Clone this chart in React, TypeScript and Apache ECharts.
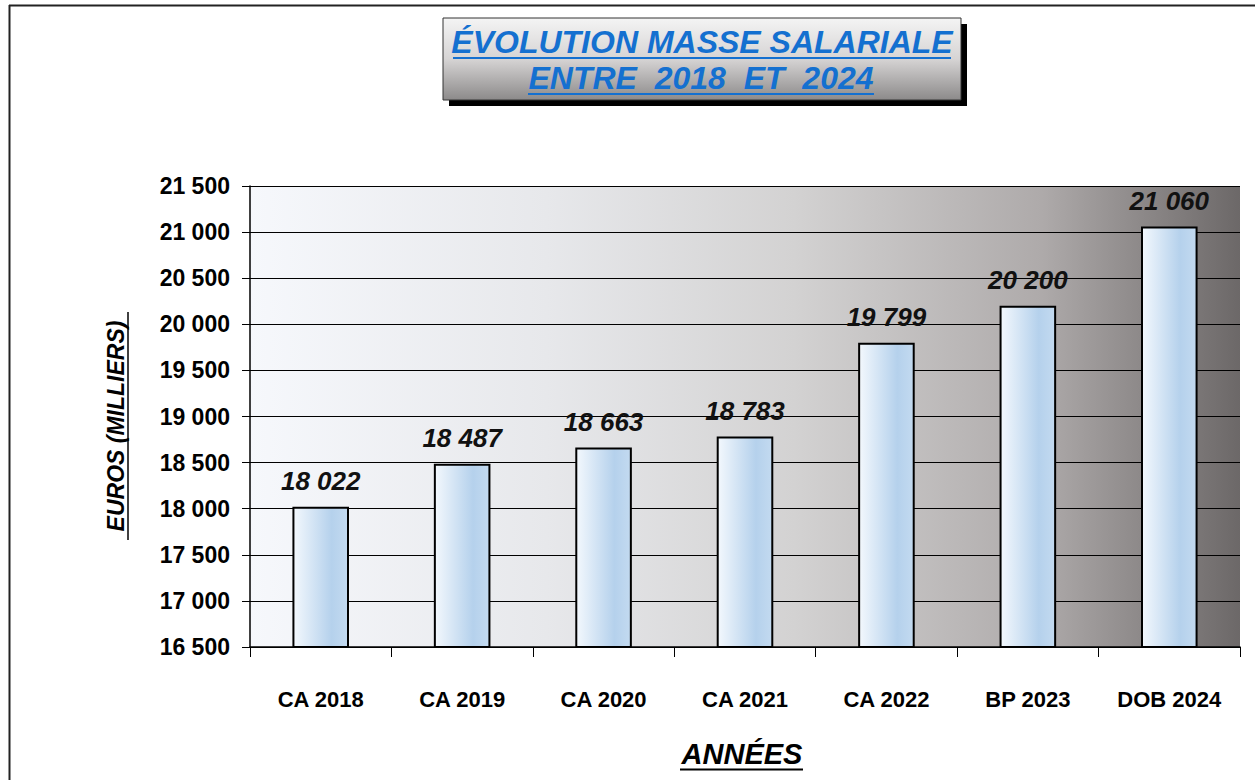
import React, { useEffect, useRef } from "react";
import * as echarts from "echarts";

const categories = ["CA 2018", "CA 2019", "CA 2020", "CA 2021", "CA 2022", "BP 2023", "DOB 2024"];
const values = [18022, 18487, 18663, 18783, 19799, 20200, 21060];
const yMin = 16500;
const yMax = 21500;
const yInterval = 500;
const titleLines = ["ÉVOLUTION MASSE SALARIALE", "ENTRE  2018  ET  2024"];
const yAxisTitle = "EUROS (MILLIERS)";
const xAxisTitle = "ANNÉES";

const fmt = (v: number) => {
  const s = Math.round(v).toString();
  return s.replace(/\B(?=(\d{3})+(?!\d))/g, " ");
};

const FONT = "Liberation Sans, Arial, sans-serif";

export default function App() {
  const ref = useRef<HTMLDivElement>(null);
  useEffect(() => {
    document.body.style.margin = "0";
    const chart = echarts.init(ref.current!, undefined, { renderer: "svg" });
    const blue = "#1470d0";
    chart.setOption({
      animation: false,
      backgroundColor: "#ffffff",
      grid: {
        left: 250,
        right: 15,
        top: 186,
        bottom: 133,
        show: true,
        borderWidth: 0,
        backgroundColor: new echarts.graphic.LinearGradient(0, 0, 1, 0, [
          { offset: 0, color: "#f6f8fc" },
          { offset: 0.3, color: "#e7e8eb" },
          { offset: 0.55, color: "#d3d2d2" },
          { offset: 0.8, color: "#aeaaaa" },
          { offset: 1, color: "#6c6868" },
        ]),
      },
      xAxis: {
        type: "category",
        data: categories,
        axisLine: { show: true, lineStyle: { color: "#000", width: 1.5 } },
        axisTick: { show: true, length: 10, lineStyle: { color: "#000" }, alignWithLabel: false },
        axisLabel: {
          color: "#000",
          fontFamily: FONT,
          fontWeight: "bold",
          fontSize: 22,
          margin: 41,
        },
      },
      yAxis: {
        type: "value",
        min: yMin,
        max: yMax,
        interval: yInterval,
        axisLine: { show: true, lineStyle: { color: "#000", width: 1.5 } },
        axisTick: { show: true, length: 8, lineStyle: { color: "#000" } },
        splitLine: { show: true, lineStyle: { color: "#000", width: 1 } },
        axisLabel: {
          color: "#000",
          fontFamily: FONT,
          fontWeight: "bold",
          fontSize: 23,
          margin: 20,
          formatter: (v: number) => fmt(v),
        },
      },
      series: [
        {
          type: "bar",
          data: values,
          barWidth: "40%",
          itemStyle: {
            color: new echarts.graphic.LinearGradient(0, 0, 1, 0, [
              { offset: 0, color: "#f3f8fd" },
              { offset: 0.7, color: "#b5d1ec" },
              { offset: 1, color: "#c3daf0" },
            ]),
            borderColor: "#000",
            borderWidth: 2,
          },
          label: {
            show: true,
            position: "top",
            distance: 13,
            color: "#111",
            fontFamily: FONT,
            fontWeight: "bold",
            fontStyle: "italic",
            fontSize: 26,
            formatter: (p: any) => fmt(p.value),
          },
        },
      ],
      graphic: [
        // outer frame
        { type: "line", shape: { x1: 9, y1: 5.5, x2: 1255, y2: 5.5 }, style: { stroke: "#222", lineWidth: 2 }, z: 10 },
        { type: "line", shape: { x1: 9.5, y1: 5, x2: 9.5, y2: 780 }, style: { stroke: "#222", lineWidth: 2 }, z: 10 },
        // title shadow
        { type: "rect", shape: { x: 449, y: 24, width: 518, height: 82 }, style: { fill: "#000" }, z: 10 },
        // title box
        {
          type: "rect",
          shape: { x: 443, y: 18, width: 518, height: 82 },
          style: {
            fill: new echarts.graphic.LinearGradient(0, 0, 0, 1, [
              { offset: 0, color: "#f4f4f4" },
              { offset: 0.5, color: "#d6d4d4" },
              { offset: 1, color: "#8c8a8a" },
            ]),
            stroke: "#333",
            lineWidth: 1,
          },
          z: 11,
        },
        {
          type: "text",
          x: 702,
          y: 42,
          style: {
            text: titleLines[0],
            fill: blue,
            font: `italic bold 32px ${FONT}`,
            textAlign: "center",
            textVerticalAlign: "middle",
          },
          z: 12,
        },
        { type: "line", shape: { x1: 453, y1: 58, x2: 951, y2: 58 }, style: { stroke: blue, lineWidth: 2 }, z: 12 },
        {
          type: "text",
          x: 701,
          y: 78,
          style: {
            text: titleLines[1],
            fill: blue,
            font: `italic bold 32px ${FONT}`,
            textAlign: "center",
            textVerticalAlign: "middle",
          },
          z: 12,
        },
        { type: "line", shape: { x1: 528, y1: 94, x2: 874, y2: 94 }, style: { stroke: blue, lineWidth: 2 }, z: 12 },
        // y-axis title
        {
          type: "group",
          x: 116,
          y: 426,
          rotation: Math.PI / 2,
          children: [
            {
              type: "text",
              x: 0,
              y: 0,
              style: {
                text: yAxisTitle,
                fill: "#000",
                font: `italic bold 23px ${FONT}`,
                textAlign: "center",
                textVerticalAlign: "middle",
              },
            },
            { type: "line", shape: { x1: -114, y1: 12, x2: 114, y2: 12 }, style: { stroke: "#000", lineWidth: 1.5 } },
          ],
          z: 12,
        },
        // x-axis title
        {
          type: "text",
          x: 742,
          y: 754,
          style: {
            text: xAxisTitle,
            fill: "#000",
            font: `italic bold 29px ${FONT}`,
            textAlign: "center",
            textVerticalAlign: "middle",
          },
          z: 12,
        },
        { type: "line", shape: { x1: 680, y1: 769.5, x2: 803, y2: 769.5 }, style: { stroke: "#000", lineWidth: 2 }, z: 12 },
      ],
    });
    return () => chart.dispose();
  }, []);
  return <div ref={ref} style={{ width: 1255, height: 780 }} />;
}
